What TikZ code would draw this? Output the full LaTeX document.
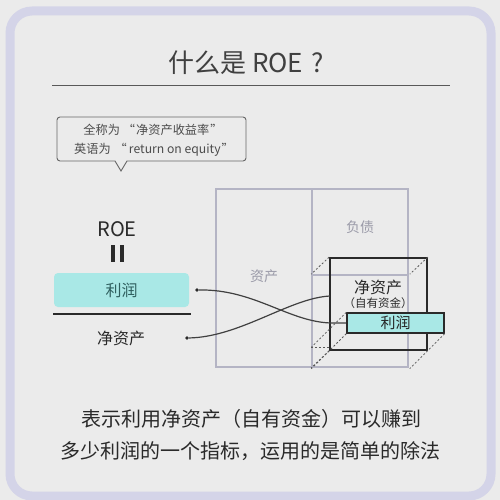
\documentclass[tikz,border=0pt]{standalone}
\usepackage{fontspec}
\setmainfont{Noto Sans CJK SC}
\definecolor{bgc}{HTML}{EBEBEB}
\definecolor{framec}{HTML}{D4D4E8}
\definecolor{cyanbox}{HTML}{A9E8E6}
\definecolor{cyantxt}{HTML}{2F5F5F}
\definecolor{sheetc}{HTML}{B4B4C4}
\definecolor{sheettxt}{HTML}{9A9AA8}
\definecolor{inkc}{HTML}{2A2A2A}
\begin{document}
\begin{tikzpicture}[x=1pt,y=-1pt,
  txt/.style={inner sep=0pt, text=inkc},
  titletxt/.style={txt, text=black!75, font=\fontsize{26}{30}\selectfont},
  calltxt/.style={txt, text=black!70, font=\fontsize{12.2}{14}\selectfont},
  roetxt/.style={txt, font=\fontsize{20}{24}\selectfont},
  midtxt/.style={txt, font=\fontsize{16}{19}\selectfont},
  subtxt/.style={txt, font=\fontsize{11.5}{13}\selectfont},
  sheetlbl/.style={txt, text=sheettxt, font=\fontsize{14}{16}\selectfont},
  bottomtxt/.style={txt, font=\fontsize{20}{24}\selectfont},
  profitbox/.style={fill=cyanbox, rounded corners=4pt, minimum width=135pt, minimum height=34pt, inner sep=0pt, text=cyantxt, font=\fontsize{16}{19}\selectfont},
  slabbox/.style={fill=cyanbox, draw=inkc, line width=1.4pt, minimum width=97pt, minimum height=20pt, inner sep=0pt, text=black!85, font=\fontsize{15}{18}\selectfont},
  frontface/.style={draw=inkc, line width=1.7pt, minimum width=97pt, minimum height=92pt, inner sep=0pt},
  dotnode/.style={circle, fill=inkc, inner sep=0pt, minimum size=3.6pt},
  sheet/.style={draw=sheetc, line width=1.3pt},
  dashline/.style={draw=black!65, line width=0.8pt, dash pattern=on 2pt off 2pt},
  link/.style={draw=black!75, line width=1.2pt},
  eqbar/.style={draw=inkc, line width=3.2pt},
]
\useasboundingbox (0,0) rectangle (500,500);
\fill[bgc] (0,0) rectangle (500,500);
\draw[framec, line width=9pt, rounded corners=22pt] (10,11) rectangle (491,496);

% title
\node[titletxt] (title) at (246,63) {什么是 ROE\hspace{8pt}?};
\draw[black!65, line width=0.8pt] (52,85) -- (450,85);

% callout
\draw[black!60, line width=0.9pt, fill=bgc]
  (121,171) -- (115,161) [rounded corners=3pt] -- (57,161) -- (57,117) -- (246,117) -- (246,161) [sharp corners] -- (127,161) -- cycle;
\node[calltxt] (c1) at (153,130) {全称为\hspace{3pt}“\hspace{1pt}净资产收益率\hspace{1pt}”};
\node[calltxt] (c2) at (154,150) {英语为\hspace{4pt}“\hspace{2pt}return on equity\hspace{1pt}”};

% formula
\node[roetxt] (roe) at (117,229) {ROE};
\draw[eqbar] (113,245) -- (113,262);
\draw[eqbar] (122,245) -- (122,262);
\node[profitbox] (num) at (121.5,290) {利润};
\draw[inkc, line width=1.2pt] (53,314) -- (191,314);
\node[midtxt] (den) at (121,338) {净资产};
\node[dotnode] (d1) at (197,290) {};
\node[dotnode] (d2) at (187,338) {};

% balance sheet
\draw[sheet] (216,189) rectangle (408,367);
\draw[sheet] (312,189) -- (312,367);
\draw[sheet] (312,275) -- (408,275);
\node[sheetlbl] (assets) at (264,276) {资产};
\node[sheetlbl] (liab) at (360,227) {负债};

% cube
\node[frontface] (front) at (378.5,304) {};
\draw[dashline] (front.north west) -- ++(-18,17);
\draw[dashline] (front.north east) -- ++(-18,17);
\draw[dashline] (front.south west) -- ++(-18,17);
\node[midtxt] (eq) at (378,287) {净资产};
\node[subtxt] (eqsub) at (378,303) {（自有资金）};
\coordinate (bend) at (330,296);

% connectors
\draw[link] (d1) .. controls (255,289) and (290,323) .. (333,323) -- (347,323);
\draw[link] (d2) .. controls (240,337) and (290,298) .. (bend);

% slab
\node[slabbox] (slab) at (395.5,323) {利润};
\draw[dashline] (slab.north west) -- ++(-35,35) coordinate (sb);
\draw[dashline] (slab.south west) -- ++(-35,35);
\draw[dashline] (slab.south east) -- ++(-35,35);
\draw[dashline] (sb) -- ++(18,0);

% bottom text
\node[bottomtxt] (l1) at (251,419) {表示利用净资产（自有资金）可以赚到};
\node[bottomtxt] (l2) at (250,451) {多少利润的一个指标，运用的是简单的除法};
\end{tikzpicture}
\end{document}
